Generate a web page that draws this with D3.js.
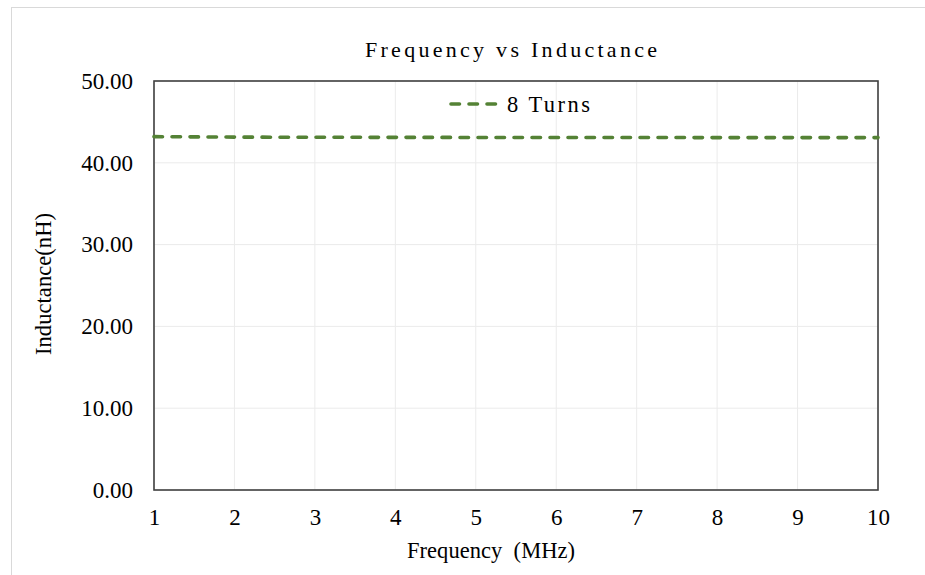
<!DOCTYPE html>
<html>
<head>
<meta charset="utf-8">
<script src="https://cdn.jsdelivr.net/npm/d3@7"></script>
<style>
  html, body { margin: 0; padding: 0; background: #fff; }
  svg { display: block; }
  svg text { font-family: "Times New Roman", "Liberation Serif", Tinos, "DejaVu Serif", serif !important; fill: #000; }
</style>
</head>
<body>
<svg id="chart" width="925" height="575"></svg>
<script>
// Measured inductance of the 8-turn coil against frequency
const frequencyMHz = [1, 2, 3, 4, 5, 6, 7, 8, 9, 10];
const inductance8Turns = [43.20, 43.14, 43.12, 43.11, 43.10, 43.09, 43.09, 43.08, 43.08, 43.08];
const xTickValues = [1, 2, 3, 4, 5, 6, 7, 8, 9, 10];
const yTickValues = [0, 10, 20, 30, 40, 50];
const seriesName = "8 Turns";
const chartTitle = "Frequency vs Inductance";
const xAxisTitle = "Frequency\u00a0\u00a0(MHz)";
const yAxisTitle = "Inductance(nH)";

const svg = d3.select("#chart");
const W = 925, H = 575;
const plot = { left: 154, right: 878, top: 81, bottom: 490 };
const lineColor = "#548235";

// Chart area frame
svg.append("rect")
  .attr("x", 11.5).attr("y", 7.5)
  .attr("width", W).attr("height", H)
  .attr("fill", "#fff").attr("stroke", "#d9d9d9").attr("stroke-width", 1);

const x = d3.scaleLinear().domain([1, 10]).range([plot.left, plot.right]);
const y = d3.scaleLinear().domain([0, 50]).range([plot.bottom, plot.top]);

// Stretch a text element to a target width through letter spacing
function fitWidth(sel, target) {
  sel.each(function () {
    const n = this.textContent.length;
    const w = this.getComputedTextLength();
    if (n > 1) d3.select(this).attr("letter-spacing", (target - w) / (n - 1));
  });
}

// Gridlines
svg.append("g")
  .selectAll("line")
  .data(xTickValues)
  .join("line")
  .attr("x1", d => x(d)).attr("x2", d => x(d))
  .attr("y1", plot.top).attr("y2", plot.bottom)
  .attr("stroke", "#ebebeb").attr("stroke-width", 1);
svg.append("g")
  .selectAll("line")
  .data(yTickValues)
  .join("line")
  .attr("x1", plot.left).attr("x2", plot.right)
  .attr("y1", d => y(d)).attr("y2", d => y(d))
  .attr("stroke", "#ebebeb").attr("stroke-width", 1);

// Axes (labels only; the plot frame supplies the lines)
const xAxis = svg.append("g")
  .attr("transform", `translate(0,${plot.bottom})`)
  .call(d3.axisBottom(x).tickValues(xTickValues).tickFormat(d3.format("d")).tickSize(0).tickPadding(19));
xAxis.select(".domain").remove();
xAxis.selectAll("text").attr("font-size", 23).attr("fill", "#000");

const yAxis = svg.append("g")
  .attr("transform", `translate(${plot.left},0)`)
  .call(d3.axisLeft(y).tickValues(yTickValues).tickFormat(d3.format(".2f")).tickSize(0).tickPadding(21));
yAxis.select(".domain").remove();
yAxis.selectAll("text").attr("font-size", 23).attr("fill", "#000");

// Plot frame
svg.append("rect")
  .attr("x", plot.left).attr("y", plot.top)
  .attr("width", plot.right - plot.left).attr("height", plot.bottom - plot.top)
  .attr("fill", "none").attr("stroke", "#404040").attr("stroke-width", 1.6);

// Series line
const line = d3.line()
  .x((d, i) => x(frequencyMHz[i]))
  .y(d => y(d));
svg.append("path")
  .datum(inductance8Turns)
  .attr("d", line)
  .attr("fill", "none")
  .attr("stroke", lineColor)
  .attr("stroke-width", 3.6)
  .attr("stroke-linecap", "round")
  .attr("stroke-dasharray", "8.5,9.5");

// Legend
svg.append("line")
  .attr("x1", 451).attr("x2", 496)
  .attr("y1", 104).attr("y2", 104)
  .attr("stroke", lineColor).attr("stroke-width", 3.6)
  .attr("stroke-linecap", "round")
  .attr("stroke-dasharray", "8.5,9.5");
svg.append("text")
  .attr("x", 507).attr("y", 112)
  .attr("font-size", 22.5)
  .text(seriesName)
  .call(fitWidth, 83);

// Title
svg.append("text")
  .attr("x", 365).attr("y", 57)
  .attr("font-size", 22)
  .text(chartTitle)
  .call(fitWidth, 292);

// Axis titles
svg.append("text")
  .attr("x", 407).attr("y", 558)
  .attr("font-size", 22.5)
  .text(xAxisTitle)
  .call(fitWidth, 168);

svg.append("text")
  .attr("transform", "translate(51,355) rotate(-90)")
  .attr("font-size", 22.5)
  .text(yAxisTitle)
  .call(fitWidth, 142);
</script>
</body>
</html>
